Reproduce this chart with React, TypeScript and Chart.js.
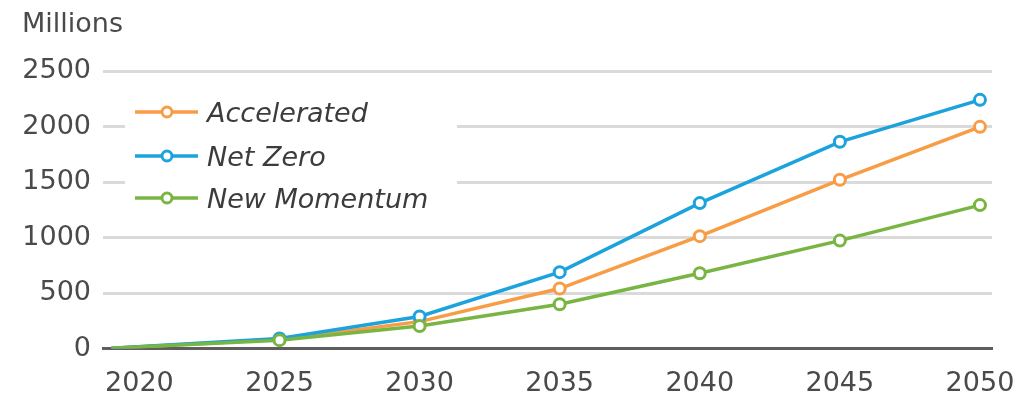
import { useEffect, useRef } from "react";
import { Chart, registerables } from "chart.js";

Chart.register(...registerables);

// Projected values, millions
const years = [2019, 2025, 2030, 2035, 2040, 2045, 2050];
const accelerated = [3, 80, 242, 540, 1012, 1520, 1997];
const netZero = [3, 90, 288, 688, 1310, 1862, 2240];
const newMomentum = [3, 75, 203, 398, 678, 972, 1292];

const seriesNames = ["Accelerated", "Net Zero", "New Momentum"];
const seriesColors = ["#F89C45", "#1CA3DD", "#78B543"];

const xTickYears = [2020, 2025, 2030, 2035, 2040, 2045, 2050];
const yTicks = [0, 500, 1000, 1500, 2000, 2500];
const unitLabel = "Millions";

const FONT = "'DejaVu Sans', sans-serif";
const TEXT = "#4a4a4a";

export default function App() {
  const ref = useRef<HTMLCanvasElement>(null);

  useEffect(() => {
    const canvas = ref.current;
    if (!canvas) return;

    const toPoints = (vals: number[]) => years.map((x, i) => ({ x, y: vals[i] }));
    const radii = years.map((_, i) => (i === 0 ? 0 : 5.5));

    const insetLegend = {
      id: "insetLegend",
      beforeDatasetsDraw(chart: any) {
        const ctx = chart.ctx;
        ctx.save();
        ctx.fillStyle = "#ffffff";
        ctx.fillRect(125, 88, 332, 128);
        const rows = [112, 156, 198];
        chart.data.datasets.forEach((ds: any, i: number) => {
          const y = rows[i];
          ctx.strokeStyle = ds.borderColor;
          ctx.lineWidth = 3.5;
          ctx.beginPath();
          ctx.moveTo(135, y);
          ctx.lineTo(198, y);
          ctx.stroke();
          ctx.beginPath();
          ctx.arc(167, y, 5, 0, Math.PI * 2);
          ctx.fillStyle = "#ffffff";
          ctx.fill();
          ctx.lineWidth = 3;
          ctx.stroke();
          ctx.fillStyle = "#3c3c3c";
          ctx.font = `italic 27px ${FONT}`;
          ctx.textAlign = "left";
          ctx.textBaseline = "alphabetic";
          ctx.fillText(ds.label, 207, y + 10);
        });
        ctx.restore();
      },
      afterDraw(chart: any) {
        const ctx = chart.ctx;
        ctx.save();
        ctx.fillStyle = TEXT;
        ctx.font = `27px ${FONT}`;
        ctx.textAlign = "left";
        ctx.textBaseline = "alphabetic";
        ctx.fillText(unitLabel, 22, 32);
        ctx.restore();
      },
    };

    const mk = (vals: number[], i: number, order: number) => ({
      label: seriesNames[i],
      data: toPoints(vals),
      borderColor: seriesColors[i],
      backgroundColor: "#ffffff",
      pointBackgroundColor: "#ffffff",
      pointBorderColor: seriesColors[i],
      pointBorderWidth: 3,
      pointRadius: radii,
      borderWidth: 3.5,
      tension: 0,
      order,
    });

    const chart = new Chart(canvas, {
      type: "line",
      data: {
        datasets: [mk(accelerated, 0, 2), mk(netZero, 1, 1), mk(newMomentum, 2, 0)],
      },
      options: {
        animation: false,
        responsive: false,
        devicePixelRatio: 1,
        layout: { padding: { top: 71, right: 39, bottom: 0, left: 0 } },
        plugins: {
          legend: { display: false },
          tooltip: { enabled: false },
        },
        scales: {
          x: {
            type: "linear",
            min: 2018.7,
            max: 2050.43,
            afterBuildTicks: (s: any) => {
              s.ticks = xTickYears.map((v) => ({ value: v }));
            },
            afterFit: (s: any) => {
              s.height = 52.5;
              s.paddingLeft = 0;
              s.paddingRight = 0;
            },
            grid: { display: false, drawTicks: false },
            border: { display: true, color: "#5e5e5e", width: 3 },
            ticks: {
              color: TEXT,
              font: { family: FONT, size: 27 },
              padding: 19,
              maxRotation: 0,
              autoSkip: false,
              callback: (v: any) => String(v),
            },
          },
          y: {
            min: 0,
            max: 2500,
            afterBuildTicks: (s: any) => {
              s.ticks = yTicks.map((v) => ({ value: v }));
            },
            afterFit: (s: any) => {
              s.width = 103;
            },
            grid: {
              color: (c: any) => (c.tick && c.tick.value === 0 ? "rgba(0,0,0,0)" : "#dadada"),
              lineWidth: 3,
              drawTicks: false,
            },
            border: { display: false },
            ticks: {
              color: TEXT,
              font: { family: FONT, size: 27 },
              padding: 12,
              callback: (v: any) => String(v),
            },
          },
        },
      },
      plugins: [insetLegend],
    });

    return () => chart.destroy();
  }, []);

  return (
    <canvas
      ref={ref}
      width={1031}
      height={401}
      style={{ position: "fixed", left: 0, top: 0, display: "block", background: "#fff" }}
    />
  );
}
